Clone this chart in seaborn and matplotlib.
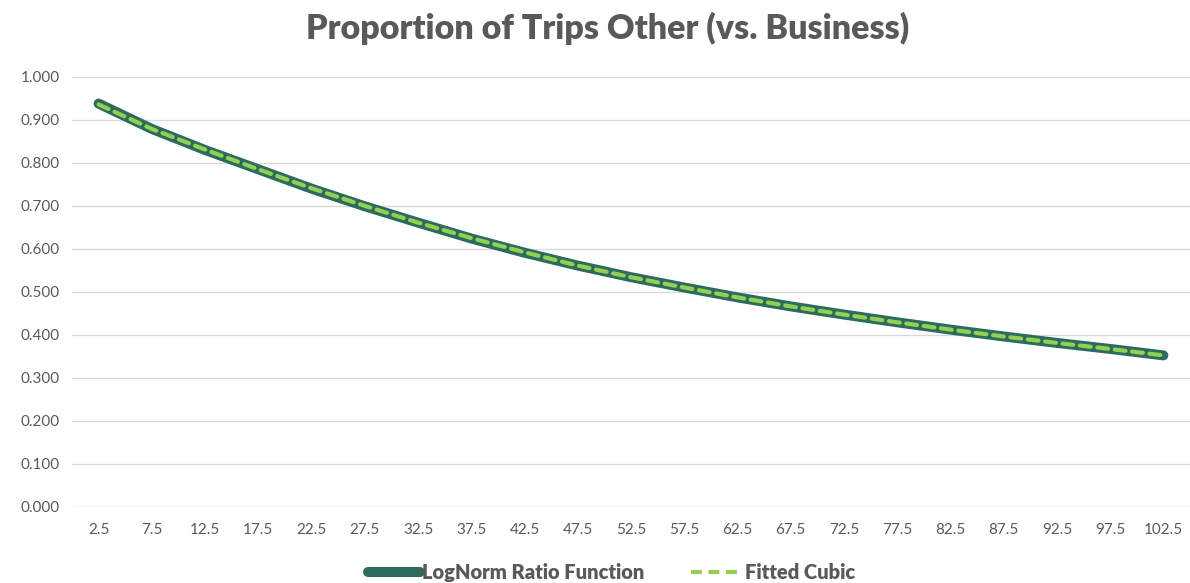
import numpy as np
import pandas as pd
import matplotlib
matplotlib.use("Agg")
import matplotlib.pyplot as plt
import seaborn as sns
from matplotlib.lines import Line2D

categories = ["2.5", "7.5", "12.5", "17.5", "22.5", "27.5", "32.5", "37.5", "42.5", "47.5",
              "52.5", "57.5", "62.5", "67.5", "72.5", "77.5", "82.5", "87.5", "92.5", "97.5", "102.5"]
lognorm_ratio = [0.938, 0.879, 0.830, 0.785, 0.740, 0.699, 0.661, 0.624, 0.591, 0.561,
                 0.534, 0.510, 0.487, 0.466, 0.447, 0.429, 0.412, 0.396, 0.381, 0.367, 0.352]
fitted_cubic = [0.936, 0.879, 0.831, 0.785, 0.741, 0.700, 0.661, 0.625, 0.592, 0.561,
                0.534, 0.510, 0.487, 0.466, 0.447, 0.429, 0.412, 0.396, 0.381, 0.367, 0.352]
y_ticks = [0.0, 0.1, 0.2, 0.3, 0.4, 0.5, 0.6, 0.7, 0.8, 0.9, 1.0]

sns.set_theme(style="white")
plt.rcParams['font.family'] = ['Lato', 'DejaVu Sans']

pos = np.arange(len(categories))
df = pd.DataFrame({"pos": pos, "LogNorm Ratio Function": lognorm_ratio, "Fitted Cubic": fitted_cubic})

fig = plt.figure(figsize=(11.9, 5.83), dpi=100)
ax = fig.add_axes([0.0605, 0.131, 0.9395, 0.737])

dark = "#2E6B5F"
light = "#92D050"
text_col = "#595959"

sns.lineplot(data=df, x="pos", y="LogNorm Ratio Function", ax=ax, color=dark, linewidth=7.2,
             solid_capstyle="round", solid_joinstyle="round", sort=False)
sns.lineplot(data=df, x="pos", y="Fitted Cubic", ax=ax, color=light, linewidth=3.0,
             linestyle=(0, (2.6, 1.6)), dash_capstyle="round", sort=False)

ax.set_xlim(-0.5, len(categories) - 0.5)
ax.set_ylim(0, 1.0)
ax.set_xticks(pos)
ax.set_xticklabels(categories)
ax.set_yticks(y_ticks)
ax.set_yticklabels([f"{v:.3f}" for v in y_ticks])
ax.tick_params(axis="both", length=0, labelsize=11, colors=text_col)
ax.tick_params(axis="x", pad=12)
ax.tick_params(axis="y", pad=9)
ax.grid(axis="y", color="#D9D9D9", linewidth=1)
ax.grid(axis="x", visible=False)
for s in ax.spines.values():
    s.set_visible(False)
ax.set_xlabel("")
ax.set_ylabel("")

fig.suptitle("Proportion of Trips Other (vs. Business)", x=0.511, y=0.98, fontsize=24.5,
             fontweight="heavy", color=text_col)

handles = [Line2D([0], [0], color=dark, linewidth=7.2, solid_capstyle="round"),
           Line2D([0], [0], color=light, linewidth=3.0, linestyle=(0, (2.6, 1.6)))]
fig.legend(handles, ["LogNorm Ratio Function", "Fitted Cubic"], loc="lower center",
           bbox_to_anchor=(0.514, -0.029), ncol=2, frameon=False, handlelength=2.6,
           handletextpad=0.1, columnspacing=2.3,
           prop={"size": 14.5, "weight": "heavy"}, labelcolor=text_col)

fig.savefig("out.png", dpi=100)
